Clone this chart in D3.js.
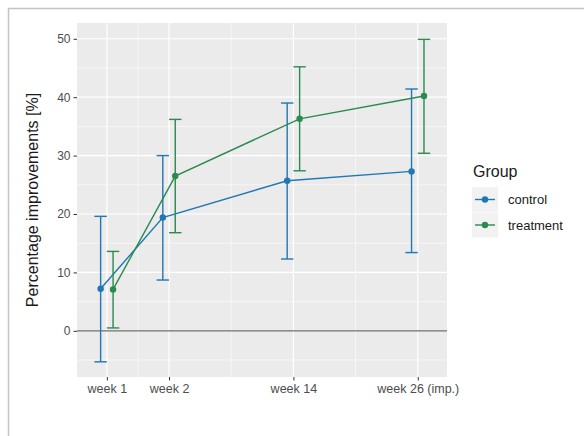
<!DOCTYPE html>
<html>
<head>
<meta charset="utf-8">
<script src="https://cdn.jsdelivr.net/npm/d3@7"></script>
<style>
  html, body { margin: 0; padding: 0; background: #fff; }
  svg { display: block; }
</style>
</head>
<body>
<svg id="chart" width="584" height="436"></svg>
<script>
// ---- data ----
const categories = ["week 1", "week 2", "week 14", "week 26 (imp.)"];
const groups = ["control", "treatment"];
const controlMean  = [7.2, 19.4, 25.7, 27.3];
const controlLow   = [-5.3, 8.7, 12.3, 13.4];
const controlHigh  = [19.6, 30.0, 39.0, 41.4];
const treatmentMean = [7.1, 26.5, 36.3, 40.2];
const treatmentLow  = [0.5, 16.8, 27.4, 30.4];
const treatmentHigh = [13.6, 36.2, 45.2, 49.9];
const yTicks = [0, 10, 20, 30, 40, 50];

const seriesData = {
  control: { mean: controlMean, low: controlLow, high: controlHigh, color: "#1f77b4" },
  treatment: { mean: treatmentMean, low: treatmentLow, high: treatmentHigh, color: "#2a8a4f" }
};

// ---- layout ----
const svg = d3.select("#chart");
const panel = { left: 77, right: 447, top: 23, bottom: 377 };

// category -> numeric position on x axis (spacing as in original)
const catPos = d3.scaleOrdinal().domain(categories).range([1, 2, 4, 6]);
const x = d3.scaleLinear().domain([0.52, 6.47]).range([panel.left, panel.right]);
const y = d3.scaleLinear().domain([-7.9, 52.7]).range([panel.bottom, panel.top]);
const dodge = d3.scaleOrdinal().domain(groups).range([-0.1, 0.1]);
const capHalf = 0.1;

// frame
svg.append("line").attr("x1", 8).attr("x2", 584).attr("y1", 8.5).attr("y2", 8.5)
  .attr("stroke", "#c4c4c4").attr("stroke-width", 1.5);
svg.append("line").attr("x1", 8.5).attr("x2", 8.5).attr("y1", 8).attr("y2", 436)
  .attr("stroke", "#c4c4c4").attr("stroke-width", 1.5);

// panel background
svg.append("rect").attr("x", panel.left).attr("y", panel.top)
  .attr("width", panel.right - panel.left).attr("height", panel.bottom - panel.top)
  .attr("fill", "#EBEBEB");

const grid = svg.append("g");
// minor horizontal
const yMinor = [-5, 5, 15, 25, 35, 45];
grid.selectAll(".hmin").data(yMinor).enter().append("line")
  .attr("x1", panel.left).attr("x2", panel.right)
  .attr("y1", d => y(d)).attr("y2", d => y(d))
  .attr("stroke", "#fff").attr("stroke-width", 0.6);
// minor vertical (midpoints between category positions)
const posVals = categories.map(c => catPos(c));
const xMinor = d3.pairs(posVals).map(([a, b]) => (a + b) / 2);
grid.selectAll(".vmin").data(xMinor).enter().append("line")
  .attr("y1", panel.top).attr("y2", panel.bottom)
  .attr("x1", d => x(d)).attr("x2", d => x(d))
  .attr("stroke", "#fff").attr("stroke-width", 0.6);
// major
grid.selectAll(".hmaj").data(yTicks).enter().append("line")
  .attr("x1", panel.left).attr("x2", panel.right)
  .attr("y1", d => y(d)).attr("y2", d => y(d))
  .attr("stroke", "#fff").attr("stroke-width", 1.2);
grid.selectAll(".vmaj").data(posVals).enter().append("line")
  .attr("y1", panel.top).attr("y2", panel.bottom)
  .attr("x1", d => x(d)).attr("x2", d => x(d))
  .attr("stroke", "#fff").attr("stroke-width", 1.2);

// zero reference line
svg.append("line").attr("x1", panel.left).attr("x2", panel.right)
  .attr("y1", y(0)).attr("y2", y(0))
  .attr("stroke", "#6b6b6b").attr("stroke-width", 1.2);

// axes
const yAxis = d3.axisLeft(y).tickValues(yTicks).tickSize(3.5).tickPadding(3);
const gy = svg.append("g").attr("transform", `translate(${panel.left},0)`).call(yAxis);
gy.select(".domain").remove();
gy.selectAll(".tick line").attr("stroke", "#333").attr("stroke-width", 1);
gy.selectAll(".tick text").attr("fill", "#4D4D4D").attr("font-size", 12)
  .attr("font-family", "Liberation Sans, Arial, sans-serif");

const xAxis = d3.axisBottom(x).tickValues(posVals)
  .tickFormat((d, i) => categories[i]).tickSize(3.5).tickPadding(4);
const gx = svg.append("g").attr("transform", `translate(0,${panel.bottom})`).call(xAxis);
gx.select(".domain").remove();
gx.selectAll(".tick line").attr("stroke", "#333").attr("stroke-width", 1);
gx.selectAll(".tick text").attr("fill", "#4D4D4D").attr("font-size", 12.5)
  .attr("font-family", "Liberation Sans, Arial, sans-serif");

// y axis title
svg.append("text")
  .attr("transform", `translate(38,${(panel.top + panel.bottom) / 2}) rotate(-90)`)
  .attr("text-anchor", "middle")
  .attr("font-family", "Liberation Sans, Arial, sans-serif")
  .attr("font-size", 16).attr("fill", "#1a1a1a")
  .text("Percentage improvements [%]");

// series
groups.forEach(g => {
  const s = seriesData[g];
  const pts = categories.map((c, i) => ({
    xv: catPos(c) + dodge(g), m: s.mean[i], lo: s.low[i], hi: s.high[i]
  }));
  const layer = svg.append("g");
  // error bars
  const eb = layer.selectAll(".eb").data(pts).enter().append("g")
    .attr("stroke", s.color).attr("stroke-width", 1.4).attr("fill", "none");
  eb.append("line").attr("x1", d => x(d.xv)).attr("x2", d => x(d.xv))
    .attr("y1", d => y(d.lo)).attr("y2", d => y(d.hi));
  eb.append("line").attr("x1", d => x(d.xv - capHalf)).attr("x2", d => x(d.xv + capHalf))
    .attr("y1", d => y(d.lo)).attr("y2", d => y(d.lo));
  eb.append("line").attr("x1", d => x(d.xv - capHalf)).attr("x2", d => x(d.xv + capHalf))
    .attr("y1", d => y(d.hi)).attr("y2", d => y(d.hi));
  // line
  layer.append("path").datum(pts)
    .attr("d", d3.line().x(d => x(d.xv)).y(d => y(d.m)))
    .attr("fill", "none").attr("stroke", s.color).attr("stroke-width", 1.4);
  // points
  layer.selectAll(".pt").data(pts).enter().append("circle")
    .attr("cx", d => x(d.xv)).attr("cy", d => y(d.m)).attr("r", 3.2)
    .attr("fill", s.color);
});

// legend
const lg = svg.append("g").attr("transform", "translate(472,0)");
lg.append("text").attr("x", 1).attr("y", 177)
  .attr("font-family", "Liberation Sans, Arial, sans-serif")
  .attr("font-size", 16).attr("fill", "#1a1a1a").text("Group");
groups.forEach((g, i) => {
  const cy = 199.5 + i * 25.5;
  const col = seriesData[g].color;
  lg.append("rect").attr("x", 0).attr("y", cy - 12.5).attr("width", 26).attr("height", 25)
    .attr("fill", "#F2F2F2");
  lg.append("line").attr("x1", 3).attr("x2", 23).attr("y1", cy).attr("y2", cy)
    .attr("stroke", col).attr("stroke-width", 1.4);
  lg.append("circle").attr("cx", 13).attr("cy", cy).attr("r", 3.2).attr("fill", col);
  lg.append("text").attr("x", 36).attr("y", cy + 4.5)
    .attr("font-family", "Liberation Sans, Arial, sans-serif")
    .attr("font-size", 13).attr("fill", "#1a1a1a").text(g);
});
</script>
</body>
</html>
